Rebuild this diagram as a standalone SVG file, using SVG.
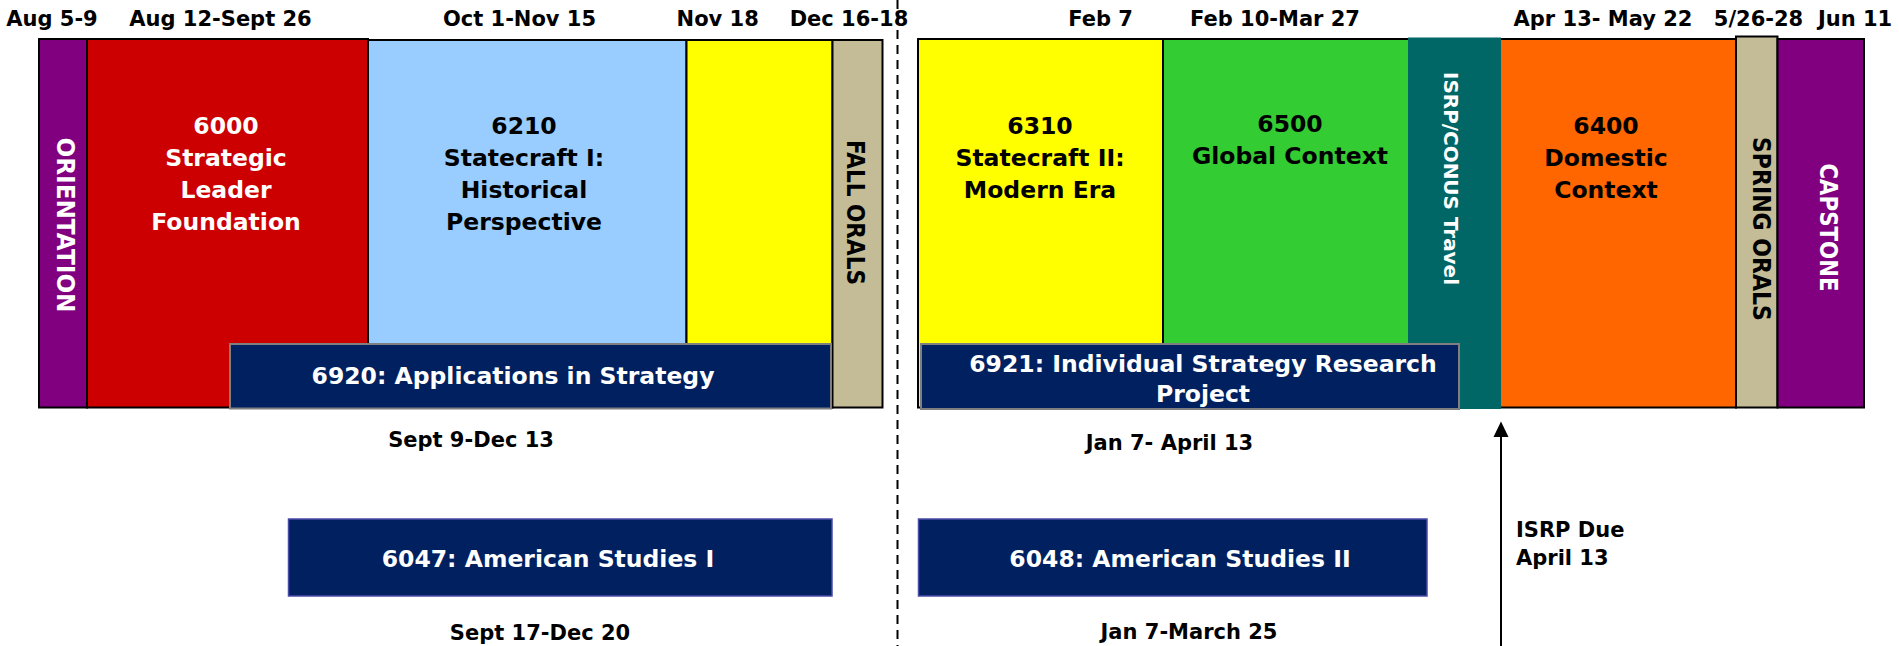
<svg xmlns="http://www.w3.org/2000/svg" width="1899" height="646" viewBox="0 0 1899 646">
<style>
text { font-family: "DejaVu Sans", Verdana, sans-serif; font-weight: bold; }
.date { font-size: 21px; fill: #000; text-anchor: middle; }
.note { font-size: 21px; fill: #000; text-anchor: start; }
.big { font-size: 23.5px; text-anchor: middle; }
.vert { font-size: 25px; text-anchor: middle; }
.w { fill: #fff; }
.k { fill: #000; }
.blk { stroke: #000; stroke-width: 2; }
.bar { fill: #002060; stroke: #7f7f7f; stroke-width: 2; }
.bar2 { fill: #002060; stroke: #4b4ba8; stroke-width: 1.5; }
</style>
<rect x="0" y="0" width="1899" height="646" fill="#fff"/>

<g id="dates">
<text class="date" x="52" y="26">Aug 5-9</text>
<text class="date" x="220.5" y="26">Aug 12-Sept 26</text>
<text class="date" x="519.5" y="26">Oct 1-Nov 15</text>
<text class="date" x="717.7" y="26">Nov 18</text>
<text class="date" x="849" y="26">Dec 16-18</text>
<text class="date" x="1100.6" y="26">Feb 7</text>
<text class="date" x="1275" y="26">Feb 10-Mar 27</text>
<text class="date" x="1603" y="26">Apr 13- May 22</text>
<text class="date" x="1758.5" y="26">5/26-28</text>
<text class="date" x="1855" y="26">Jun 11</text>
</g>

<g id="orientation">
<rect class="blk" x="39" y="39" width="48" height="368.5" fill="#800080"/>
<text class="vert w" transform="translate(57,225) rotate(90)" textLength="175" lengthAdjust="spacingAndGlyphs">ORIENTATION</text>
</g>
<g id="c6000">
<rect class="blk" x="87" y="39" width="281" height="368.5" fill="#CC0000"/>
<text class="big w" x="226" y="134">6000</text>
<text class="big w" x="226" y="166">Strategic</text>
<text class="big w" x="226" y="198">Leader</text>
<text class="big w" x="226" y="230">Foundation</text>
</g>
<g id="c6210">
<rect class="blk" x="368" y="40" width="318.5" height="367.5" fill="#99CCFF"/>
<text class="big k" x="524" y="134">6210</text>
<text class="big k" x="524" y="166">Statecraft I:</text>
<text class="big k" x="524" y="198">Historical</text>
<text class="big k" x="524" y="230">Perspective</text>
</g>
<g id="fallYellow">
<rect class="blk" x="686.5" y="40" width="146" height="367.5" fill="#FFFF00"/>
</g>
<g id="fallOrals">
<rect class="blk" x="832.5" y="40" width="50" height="367.5" fill="#C4BC96"/>
<text class="vert k" transform="translate(847,212.5) rotate(90)" textLength="145" lengthAdjust="spacingAndGlyphs">FALL ORALS</text>
</g>
<g id="c6920">
<rect class="bar" x="230" y="344" width="601" height="64.5"/>
<text class="big w" x="513" y="384">6920: Applications in Strategy</text>
</g>

<g id="c6310">
<rect class="blk" x="918" y="39" width="245" height="368.5" fill="#FFFF00"/>
<text class="big k" x="1040" y="134">6310</text>
<text class="big k" x="1040" y="166">Statecraft II:</text>
<text class="big k" x="1040" y="198">Modern Era</text>
</g>
<g id="c6500">
<rect class="blk" x="1163" y="39" width="246" height="368.5" fill="#33CC33"/>
<text class="big k" x="1290" y="132">6500</text>
<text class="big k" x="1290" y="164">Global Context</text>
</g>
<g id="c6400">
<rect class="blk" x="1500" y="39" width="236" height="368.5" fill="#FF6600"/>
<text class="big k" x="1606" y="134">6400</text>
<text class="big k" x="1606" y="166">Domestic</text>
<text class="big k" x="1606" y="198">Context</text>
</g>
<g id="isrpTravel">
<rect x="1408" y="37.5" width="93" height="371.5" fill="#006666"/>
<text class="w" font-size="20" text-anchor="middle" transform="translate(1444,178.5) rotate(90)" textLength="213" lengthAdjust="spacingAndGlyphs">ISRP/CONUS Travel</text>
</g>
<g id="springOrals">
<rect class="blk" x="1736" y="36.5" width="41.5" height="371" fill="#C4BC96"/>
<text class="vert k" transform="translate(1753,229) rotate(90)" textLength="184" lengthAdjust="spacingAndGlyphs">SPRING ORALS</text>
</g>
<g id="capstone">
<rect class="blk" x="1777.5" y="39" width="86.5" height="368.5" fill="#800080"/>
<text class="vert w" font-size="26" transform="translate(1820,227.5) rotate(90)" textLength="128" lengthAdjust="spacingAndGlyphs">CAPSTONE</text>
</g>
<g id="c6921">
<rect class="bar" x="921" y="344" width="538" height="65"/>
<text class="big w" x="1203" y="371.7">6921: Individual Strategy Research</text>
<text class="big w" x="1203" y="401.7">Project</text>
</g>

<g id="c6047">
<rect class="bar2" x="288.5" y="519" width="543.5" height="77"/>
<text class="big w" x="548" y="566.7">6047: American Studies I</text>
</g>
<g id="c6048">
<rect class="bar2" x="918.5" y="519" width="508.5" height="77"/>
<text class="big w" x="1180" y="566.7">6048: American Studies II</text>
</g>

<g id="labels">
<text class="date" x="471" y="446.7">Sept 9-Dec 13</text>
<text class="date" x="1169.5" y="450">Jan 7- April 13</text>
<text class="date" x="540" y="640">Sept 17-Dec 20</text>
<text class="date" x="1189" y="639.3">Jan 7-March 25</text>
<text class="note" x="1516" y="536.7">ISRP Due</text>
<text class="note" x="1516" y="565">April 13</text>
</g>

<g id="connectors">
<line x1="897.5" y1="0" x2="897.5" y2="646" stroke="#000" stroke-width="2" stroke-dasharray="9 6"/>
<line x1="1501" y1="646" x2="1501" y2="435" stroke="#000" stroke-width="2"/>
<polygon points="1501,421.5 1493.5,437 1508.5,437" fill="#000"/>
</g>
</svg>
